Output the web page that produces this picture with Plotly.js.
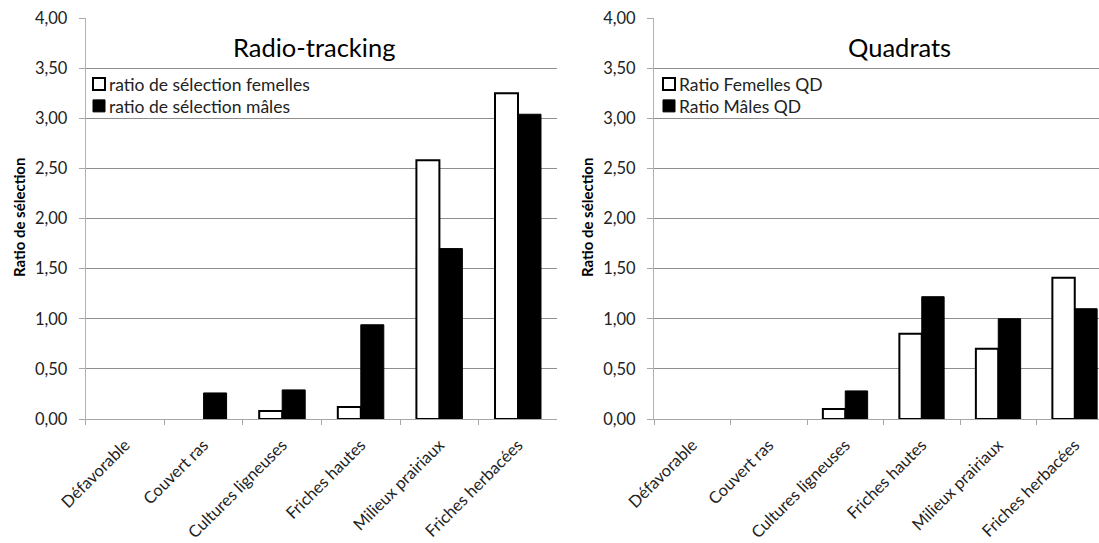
<!DOCTYPE html>
<html>
<head>
<meta charset="utf-8">
<script src="https://cdn.plot.ly/plotly-3.0.1.min.js"></script>
<style>html,body{margin:0;padding:0;background:#fff;}#chart{width:1099px;height:543px;}</style>
</head>
<body>
<div id="chart"></div>
<script>
const categories = ["Défavorable", "Couvert ras", "Cultures ligneuses", "Friches hautes", "Milieux prairiaux", "Friches herbacées"];
const radioFemelles = [0, 0, 0.08, 0.12, 2.58, 3.25];
const radioMales = [0, 0.26, 0.29, 0.94, 1.70, 3.04];
const quadratFemelles = [0, 0, 0.10, 0.85, 0.70, 1.41];
const quadratMales = [0, 0, 0.28, 1.22, 1.00, 1.10];
const yTickVals = [0, 0.5, 1, 1.5, 2, 2.5, 3, 3.5, 4];

const FONT = "Lato, 'Open Sans', sans-serif";
const W = 1099, H = 543, T = 18, B = 124;
const plotH = H - T - B;
const px = v => v / W;
const py = v => (H - B - v) / plotH;

// a zero ratio draws no bar (no outline at the baseline), as in the original
const shown = vals => vals.map(v => v === 0 ? null : v);

const whiteBar = {color: "#ffffff", line: {color: "#000000", width: 2}};
const blackBar = {color: "#000000", line: {color: "#000000", width: 1}};

const traces = [
  {type: "bar", name: "ratio de sélection femelles", x: categories, y: shown(radioFemelles), xaxis: "x", yaxis: "y", marker: whiteBar, legend: "legend"},
  {type: "bar", name: "ratio de sélection mâles", x: categories, y: shown(radioMales), xaxis: "x", yaxis: "y", marker: blackBar, legend: "legend"},
  {type: "bar", name: "Ratio Femelles QD", x: categories, y: shown(quadratFemelles), xaxis: "x2", yaxis: "y2", marker: whiteBar, legend: "legend2"},
  {type: "bar", name: "Ratio Mâles QD", x: categories, y: shown(quadratMales), xaxis: "x2", yaxis: "y2", marker: blackBar, legend: "legend2"}
];

const xCommon = {
  type: "category", tickson: "boundaries", ticks: "outside", ticklen: 5, tickcolor: "#a6a6a6",
  showline: true, linecolor: "#a6a6a6", linewidth: 1, showgrid: false, zeroline: false,
  tickangle: -45, tickfont: {family: FONT, size: 16.5, color: "#222"}, ticklabelstandoff: 9, fixedrange: true
};
const yCommon = {
  range: [0, 4], tickvals: yTickVals, tickformat: ".2f", ticks: "outside", ticklen: 6, tickcolor: "#a6a6a6",
  showline: true, linecolor: "#b3b3b3", linewidth: 1, showgrid: true, gridcolor: "#8f8f8f", gridwidth: 1,
  zeroline: false, tickfont: {family: FONT, size: 16.5, color: "#222"}, ticklabelstandoff: 8, fixedrange: true
};

const legendFont = {family: FONT, size: 17.5, color: "#222"};

const layout = {
  width: W, height: H,
  margin: {l: 0, r: 0, t: T, b: B, pad: 0, autoexpand: false},
  paper_bgcolor: "#ffffff", plot_bgcolor: "#ffffff",
  separators: ", ",
  barmode: "group", bargap: 0.415, bargroupgap: 0,
  font: {family: FONT, color: "#222"},
  xaxis: Object.assign({}, xCommon, {domain: [px(85.7), px(557.3)], range: [-0.5, 5.5], anchor: "y"}),
  yaxis: Object.assign({}, yCommon, {domain: [0, 1], anchor: "x"}),
  xaxis2: Object.assign({}, xCommon, {domain: [px(654), 1], range: [-0.5, 5.317], anchor: "y2"}),
  yaxis2: Object.assign({}, yCommon, {domain: [0, 1], anchor: "x2"}),
  legend: {x: px(79), y: py(66), xanchor: "left", yanchor: "top", bgcolor: "rgba(0,0,0,0)",
           font: legendFont, itemwidth: 30, tracegroupgap: 0},
  legend2: {x: px(649), y: py(66), xanchor: "left", yanchor: "top", bgcolor: "rgba(0,0,0,0)",
            font: legendFont, itemwidth: 30, tracegroupgap: 0},
  annotations: [
    {text: "Radio-tracking", xref: "paper", yref: "paper", x: px(314), y: py(46.7), xanchor: "center", yanchor: "middle", showarrow: false, font: {family: FONT, size: 25.5, color: "#000"}},
    {text: "Quadrats", xref: "paper", yref: "paper", x: px(899), y: py(46.7), xanchor: "center", yanchor: "middle", showarrow: false, font: {family: FONT, size: 25.5, color: "#000"}},
    {text: "<b>Ratio de sélection</b>", xref: "paper", yref: "paper", x: px(19), y: py(218), xanchor: "center", yanchor: "middle", textangle: -90, showarrow: false, font: {family: FONT, size: 15, color: "#000"}},
    {text: "<b>Ratio de sélection</b>", xref: "paper", yref: "paper", x: px(587), y: py(218), xanchor: "center", yanchor: "middle", textangle: -90, showarrow: false, font: {family: FONT, size: 15, color: "#000"}}
  ],
  showlegend: true
};

// tighten legends: text closer to the symbol, rows 22px apart
function tweakLegends() {
  document.querySelectorAll("#chart .legendtext, #chart .legend2text").forEach(function (t) {
    if (t.getAttribute("x") !== "30") t.setAttribute("x", "30");
  });
  document.querySelectorAll("#chart g.legend, #chart g.legend2").forEach(function (g) {
    const items = g.querySelectorAll("g.traces");
    if (items.length < 2) return;
    const m = /translate\(\s*([-\d.]+)[ ,]+([-\d.]+)\s*\)/.exec(items[0].getAttribute("transform") || "");
    if (!m) return;
    const x0 = parseFloat(m[1]), y0 = parseFloat(m[2]);
    items.forEach(function (it, i) {
      const tr = "translate(" + x0 + "," + (y0 + i * 22) + ")";
      if (it.getAttribute("transform") !== tr) it.setAttribute("transform", tr);
    });
  });
}

const gd = document.getElementById("chart");
Plotly.newPlot(gd, traces, layout, {displayModeBar: false, staticPlot: true}).then(function () {
  tweakLegends();
  gd.on("plotly_afterplot", tweakLegends);
});
</script>
</body>
</html>
